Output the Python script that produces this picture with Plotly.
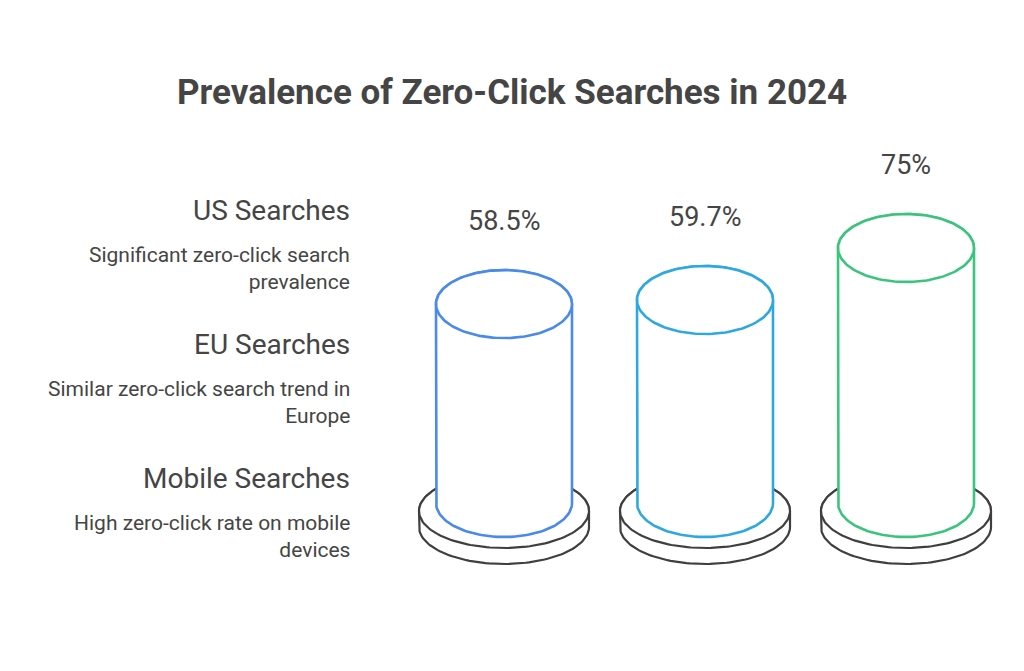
import numpy as np
import plotly.graph_objects as go

# ---- data ----
categories = ["US Searches", "EU Searches", "Mobile Searches"]
descriptions = [
    "Significant zero-click search<br>prevalence",
    "Similar zero-click search trend in<br>Europe",
    "High zero-click rate on mobile<br>devices",
]
values = [58.5, 59.7, 75]
value_labels = ["58.5%", "59.7%", "75%"]
colors = ["#4A8AE8", "#2EA9DF", "#3CC47F"]

title = "Prevalence of Zero-Click Searches in 2024"

# ---- geometry (pixel-based mapping; page body has an 8px margin) ----
OFF = 8
W, H = 1024, 671
PX_X = 201.0          # px per category step
X0_PX = 504.0 - OFF   # pixel of first category centre
PX_Y = 3.4            # px per value unit
BASE_PX = 503.0 - OFF # pixel row of value 0

x_range = [-X0_PX / PX_X, (W - X0_PX) / PX_X]
y_range = [-(H - BASE_PX) / PX_Y, BASE_PX / PX_Y]

rx = 68 / PX_X
ry = 34 / PX_Y
drx = 85 / PX_X
dry = 37 / PX_Y
dcy = -8 / PX_Y
dth = 16 / PX_Y

DARK = "#3f3f3f"
TEXT = "#454545"
FONT = "Roboto"

fig = go.Figure()


def arc(cx, cy, ax, ay, t0, t1, n=80):
    t = np.linspace(t0, t1, n)
    return cx + ax * np.cos(t), cy + ay * np.sin(t)


def add_poly(xs, ys, color, width):
    fig.add_trace(go.Scatter(
        x=xs, y=ys, mode="lines", fill="toself", fillcolor="white",
        line=dict(color=color, width=width), hoverinfo="skip", showlegend=False))


for i, v in enumerate(values):
    cx = float(i)
    # disc: sides + lower front arc of bottom ellipse + upper arc of top ellipse
    bx, by = arc(cx, dcy - dth, drx, dry, np.pi, 2 * np.pi)
    tx, ty = arc(cx, dcy, drx, dry, 0, np.pi)
    xs = np.concatenate([[cx - drx], bx, [cx + drx], tx])
    ys = np.concatenate([[dcy], by, [dcy], ty])
    add_poly(xs, ys, DARK, 2.2)
    ex, ey = arc(cx, dcy, drx, dry, 0, 2 * np.pi, 160)
    add_poly(ex, ey, DARK, 2.2)

    # cylinder body
    bx, by = arc(cx, 0, rx, ry, np.pi, 2 * np.pi)
    tx, ty = arc(cx, v, rx, ry, 0, np.pi)
    xs = np.concatenate([[cx - rx], bx, [cx + rx], tx])
    ys = np.concatenate([[v], by, [v], ty])
    add_poly(xs, ys, colors[i], 2.6)
    ex, ey = arc(cx, v, rx, ry, 0, 2 * np.pi, 160)
    add_poly(ex, ey, colors[i], 2.6)

    fig.add_annotation(x=cx, y=v + 83 / PX_Y, text=value_labels[i],
                       showarrow=False, xanchor="center", yanchor="middle",
                       font=dict(family=FONT, size=27, color=TEXT))

# left side labels (paper coords)
label_y_px = [210 - OFF, 344 - OFF, 478 - OFF]
RIGHT_PX = 352 - OFF
for i, (name, desc) in enumerate(zip(categories, descriptions)):
    yp = label_y_px[i]
    fig.add_annotation(xref="paper", yref="paper", x=RIGHT_PX / W, y=1 - yp / H,
                       text=name, showarrow=False, xanchor="right", yanchor="middle",
                       font=dict(family=FONT, size=28, color=TEXT))
    fig.add_annotation(xref="paper", yref="paper", x=RIGHT_PX / W, y=1 - (yp + 58) / H,
                       text=desc, showarrow=False, xanchor="right", yanchor="middle",
                       align="right",
                       font=dict(family=FONT, size=21, color=TEXT))

fig.add_annotation(xref="paper", yref="paper", x=(512 - OFF) / W, y=1 - (92 - OFF) / H,
                   text="<b>" + title + "</b>", showarrow=False,
                   xanchor="center", yanchor="middle",
                   font=dict(family=FONT, size=35, color=TEXT))

fig.update_layout(
    width=W, height=H, margin=dict(l=0, r=0, t=0, b=0),
    paper_bgcolor="white", plot_bgcolor="white",
    xaxis=dict(range=x_range, visible=False, fixedrange=True),
    yaxis=dict(range=y_range, visible=False, fixedrange=True),
    showlegend=False,
)

fig.write_html("out.html", config={"displayModeBar": False})
